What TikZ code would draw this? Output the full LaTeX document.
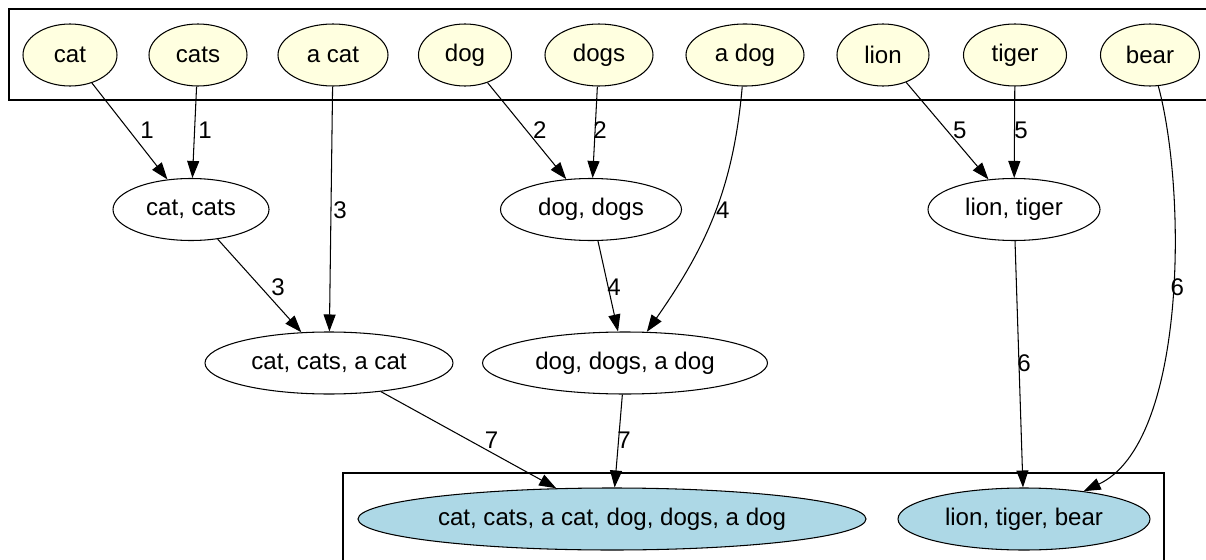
\documentclass[tikz,border=0pt]{standalone}
\usepackage{fontspec}
\setmainfont{Liberation Sans}
\usepackage{tikz}
\usetikzlibrary{arrows.meta,shapes.geometric}
\definecolor{wordfill}{HTML}{FFFFE0}
\definecolor{groupfill}{HTML}{ADD8E6}

\begin{document}
\begin{tikzpicture}[
  font=\fontsize{13.7}{16}\selectfont,
  line width=0.6pt,
  >={Triangle[length=0.34cm,width=0.24cm]},
  word/.style={ellipse, draw, fill=wordfill, inner sep=0pt, minimum height=1.24cm},
  pair/.style={ellipse, draw, inner sep=0pt, minimum height=1.24cm},
  group/.style={ellipse, draw, fill=groupfill, inner sep=0pt, minimum height=1.24cm},
  num/.style={inner sep=0pt}
]
\useasboundingbox (0cm,0cm) rectangle (24.12cm,-11.2cm);
\draw (24.12cm,-0.18cm) -- (0.18cm,-0.18cm) -- (0.18cm,-2cm) -- (24.12cm,-2cm);
\draw (6.86cm,-11.2cm) -- (6.86cm,-9.46cm) -- (23.28cm,-9.46cm) -- (23.28cm,-11.2cm);
\node[word, minimum width=1.88cm] (cat) at (1.4cm,-1.1cm) {cat};
\node[word, minimum width=1.96cm] (cats) at (3.96cm,-1.1cm) {cats};
\node[word, minimum width=2.2cm] (acat) at (6.66cm,-1.1cm) {a cat};
\node[word, minimum width=1.86cm] (dog) at (9.3cm,-1.1cm) {dog};
\node[word, minimum width=2.16cm] (dogs) at (11.98cm,-1.1cm) {dogs};
\node[word, minimum width=2.36cm] (adog) at (14.9cm,-1.1cm) {a dog};
\node[word, minimum width=1.84cm] (lion) at (17.66cm,-1.1cm) {lion};
\node[word, minimum width=2.06cm] (tiger) at (20.3cm,-1.1cm) {tiger};
\node[word, minimum width=1.98cm] (bear) at (23cm,-1.1cm) {bear};
\node[pair, minimum width=3.12cm] (catcats) at (3.82cm,-4.19cm) {cat, cats};
\node[pair, minimum width=3.62cm] (dogdogs) at (11.82cm,-4.19cm) {dog, dogs};
\node[pair, minimum width=3.44cm] (liontiger) at (20.28cm,-4.19cm) {lion, tiger};
\node[pair, minimum width=4.96cm] (allcats) at (6.58cm,-7.26cm) {cat, cats, a cat};
\node[pair, minimum width=5.7cm] (alldogs) at (12.5cm,-7.26cm) {dog, dogs, a dog};
\node[group, minimum width=10.16cm] (pets) at (12.24cm,-10.38cm) {cat, cats, a cat, dog, dogs, a dog};
\node[group, minimum width=5.04cm] (wild) at (20.48cm,-10.38cm) {lion, tiger, bear};
\draw[->] (cat) -- node[num, midway, xshift=0.35cm, yshift=0.02cm] {1} (catcats);
\draw[->] (cats) -- node[num, midway, xshift=0.21cm, yshift=0.04cm] {1} (catcats);
\draw[->] (acat) -- node[num, midway, xshift=0.18cm, yshift=-0.02cm] {3} (allcats);
\draw[->] (catcats) -- node[num, midway, xshift=0.37cm, yshift=-0.03cm] {3} (allcats);
\draw[->] (dog) -- node[num, midway, xshift=0.26cm, yshift=0.02cm] {2} (dogdogs);
\draw[->] (dogs) -- node[num, midway, xshift=0.1cm, yshift=0.04cm] {2} (dogdogs);
\draw[->] (adog) to [out=-95,in=55] node[num, midway, xshift=0.19cm, yshift=0.12cm] {4} (alldogs);
\draw[->] (dogdogs) -- node[num, midway, xshift=0.12cm, yshift=-0.02cm] {4} (alldogs);
\draw[->] (lion) -- node[num, midway, xshift=0.25cm, yshift=0.02cm] {5} (liontiger);
\draw[->] (tiger) -- node[num, midway, xshift=0.13cm, yshift=0.04cm] {5} (liontiger);
\draw[->] (bear) to [out=-75,in=25,looseness=0.7] node[num, midway, xshift=0.14cm, yshift=0.49cm] {6} (wild);
\draw[->] (liontiger) -- node[num, midway, xshift=0.1cm, yshift=0.02cm] {6} (wild);
\draw[->] (allcats) -- node[num, midway, xshift=0.46cm] {7} (pets);
\draw[->] (alldogs) -- node[num, midway, xshift=0.11cm, yshift=0.02cm] {7} (pets);
\end{tikzpicture}
\end{document}
